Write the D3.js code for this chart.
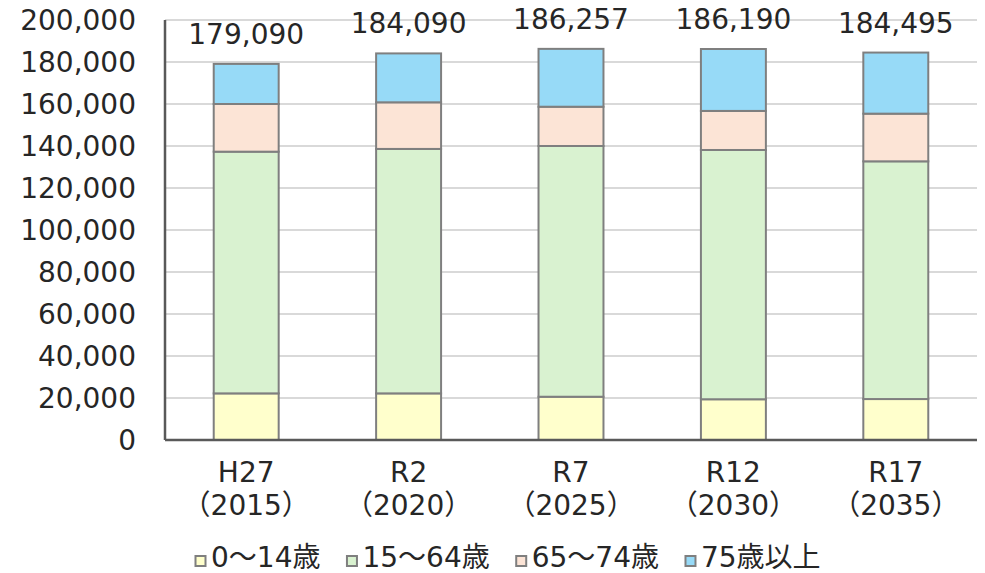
<!DOCTYPE html>
<html>
<head>
<meta charset="utf-8">
<script src="https://cdn.jsdelivr.net/npm/d3@7/dist/d3.min.js"></script>
<style>
  body{margin:0;background:#fff;}
  svg text{font-family:"DejaVu Sans","Noto Sans CJK JP",sans-serif;fill:#262626;}
</style>
</head>
<body>
<svg></svg>
<script>
// data
var years = ["H27", "R2", "R7", "R12", "R17"];
var yearsWest = ["（2015）", "（2020）", "（2025）", "（2030）", "（2035）"];
var ageGroups = ["0～14歳", "15～64歳", "65～74歳", "75歳以上"];
var age0to14 = [22200, 22200, 20600, 19400, 19500];
var age15to64 = [115100, 116400, 119400, 118700, 113200];
var age65to74 = [22700, 22200, 18700, 18600, 22700];
var age75plus = [19090, 23290, 27557, 29490, 29095];
var totals = [179090, 184090, 186257, 186190, 184495];
var yTicks = [0, 20000, 40000, 60000, 80000, 100000, 120000, 140000, 160000, 180000, 200000];

var colors = ["#ffffcc", "#d9f2d0", "#fce4d6", "#97daf7"];

var screen = {width:985, height:573};
var margins = {left:165, right:8, top:20, bottom:133};
var graph = {
    width:screen.width - margins.left - margins.right,
    height:screen.height - margins.top - margins.bottom
};

var svg = d3.select("svg")
    .attr("width", screen.width)
    .attr("height", screen.height);

var rows = years.map(function(y, i){
    return {year:y, a:age0to14[i], b:age15to64[i], c:age65to74[i], d:age75plus[i], total:totals[i]};
});

var stack = d3.stack().keys(["a","b","c","d"]);
var series = stack(rows);

var xScale = d3.scaleBand()
    .domain(years)
    .range([0, graph.width])
    .paddingInner(0.6)
    .paddingOuter(0.3);

var yScale = d3.scaleLinear()
    .domain([0, 200000])
    .range([graph.height, 0]);

var target = svg.append("g")
    .attr("transform", "translate(" + margins.left + "," + margins.top + ")");

// gridlines
target.append("g")
    .selectAll("line")
    .data(yTicks.slice(1))
    .enter()
    .append("line")
    .attr("x1", 0)
    .attr("x2", graph.width)
    .attr("y1", function(d){ return yScale(d); })
    .attr("y2", function(d){ return yScale(d); })
    .attr("stroke", "#d9d9d9")
    .attr("stroke-width", 2);

// y tick labels
target.append("g")
    .selectAll("text")
    .data(yTicks)
    .enter()
    .append("text")
    .attr("x", -29)
    .attr("y", function(d){ return yScale(d) + 10; })
    .attr("text-anchor", "end")
    .style("font-size", "28px")
    .text(function(d){ return d3.format(",")(d); });

// bars
var layers = target.append("g")
    .selectAll("g")
    .data(series)
    .enter()
    .append("g")
    .attr("fill", function(d, i){ return colors[i]; });

layers.selectAll("rect")
    .data(function(d){ return d; })
    .enter()
    .append("rect")
    .attr("x", function(d){ return xScale(d.data.year); })
    .attr("width", xScale.bandwidth())
    .attr("y", function(d){ return yScale(d[1]); })
    .attr("height", function(d){ return yScale(d[0]) - yScale(d[1]); })
    .attr("stroke", "#7f7f7f")
    .attr("stroke-width", 2);

// total labels
target.append("g")
    .selectAll("text")
    .data(rows)
    .enter()
    .append("text")
    .attr("x", function(d){ return xScale(d.year) + xScale.bandwidth()/2; })
    .attr("y", function(d){ return yScale(d.a + d.b + d.c + d.d) - 20; })
    .attr("text-anchor", "middle")
    .style("font-size", "28px")
    .text(function(d){ return d3.format(",")(d.total); });

// axes lines
target.append("line")
    .attr("x1", 0).attr("x2", 0)
    .attr("y1", 0).attr("y2", graph.height)
    .attr("stroke", "#595959").attr("stroke-width", 2.5);
target.append("line")
    .attr("x1", 0).attr("x2", graph.width)
    .attr("y1", graph.height).attr("y2", graph.height)
    .attr("stroke", "#595959").attr("stroke-width", 2.5);

// category labels
var cats = target.append("g")
    .selectAll("text")
    .data(years)
    .enter()
    .append("text")
    .attr("text-anchor", "middle")
    .style("font-size", "28px")
    .attr("transform", function(d){
        return "translate(" + (xScale(d) + xScale.bandwidth()/2) + "," + (graph.height + 42) + ")";
    });
cats.append("tspan")
    .attr("x", 0).attr("y", 0)
    .text(function(d){ return d; });
cats.append("tspan")
    .attr("x", 0).attr("y", 33)
    .text(function(d, i){ return yearsWest[i]; });

// legend
var legend = svg.append("g")
    .attr("transform", "translate(195,567)");
var lx = 0;
ageGroups.forEach(function(name, i){
    var entry = legend.append("g")
        .attr("transform", "translate(" + lx + ",0)");
    entry.append("rect")
        .attr("x", 0.5)
        .attr("y", -11)
        .attr("width", 10)
        .attr("height", 10)
        .attr("fill", colors[i])
        .attr("stroke", "#7f7f7f")
        .attr("stroke-width", 2);
    var t = entry.append("text")
        .attr("x", 16)
        .attr("y", 0)
        .style("font-size", "28px")
        .text(name);
    lx += 16 + t.node().getComputedTextLength() + 26;
});
</script>
</body>
</html>
